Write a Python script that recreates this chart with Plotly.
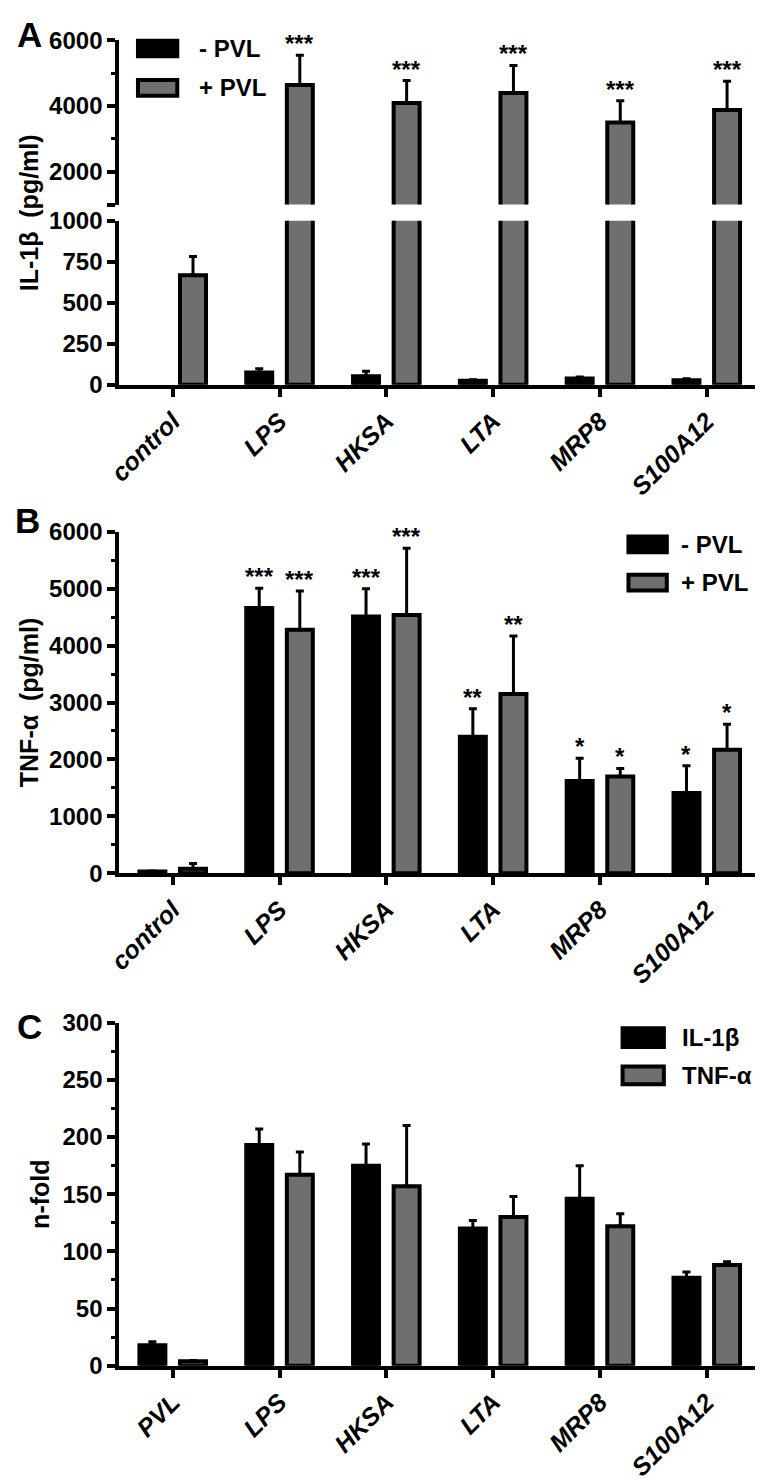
import plotly.graph_objects as go

# ---------------- data ----------------
categories_ab = ["control", "LPS", "HKSA", "LTA", "MRP8", "S100A12"]
categories_c = ["PVL", "LPS", "HKSA", "LTA", "MRP8", "S100A12"]

# Panel A: IL-1beta (pg/ml)  (control without PVL: not detectable)
il1b_minus = [None, 75, 52, 25, 38, 28]
il1b_minus_err = [0, 22, 30, 5, 10, 8]
il1b_plus = [668, 4640, 4090, 4390, 3500, 3880]
il1b_plus_err = [115, 900, 680, 840, 660, 870]
il1b_stars_plus = ["", "***", "***", "***", "***", "***"]

# Panel B: TNF-alpha (pg/ml)
tnf_minus = [30, 4660, 4510, 2400, 1620, 1410]
tnf_minus_err = [10, 350, 490, 490, 400, 480]
tnf_plus = [80, 4280, 4540, 3150, 1700, 2170]
tnf_plus_err = [92, 680, 1170, 1020, 140, 450]
tnf_stars_minus = ["", "***", "***", "**", "*", "*"]
tnf_stars_plus = ["", "***", "***", "**", "*", "*"]

# Panel C: n-fold
nfold_il1b = [18, 193, 175, 120, 146, 77]
nfold_il1b_err = [3, 14, 19, 7, 29, 5]
nfold_tnf = [4, 167, 157, 130, 122, 88]
nfold_tnf_err = [0.5, 20, 53, 18, 11, 3]

legend_ab = ["- PVL", "+ PVL"]
legend_c = ["IL-1β", "TNF-α"]

# ---------------- style ----------------
W, H = 763, 1480
OFF = 8  # default page (body) margin of the html page
BLACK = "#000000"
GREY = "#6f6f6f"
FONT = "Liberation Sans, Arial, sans-serif"
BARGAP = 0.24
GROUPGAP = 0.36


def X(px):
    return (px - OFF) / W


def Y(py):
    return 1 - (py - OFF) / H


xdom = [X(108), X(760)]


def bar(x, y, err, color, name, xa, ya):
    return go.Bar(
        x=x, y=y, name=name, xaxis=xa, yaxis=ya, showlegend=False,
        marker=dict(color=color, line=dict(color=BLACK, width=4)),
        error_y=dict(type="data", array=err, arrayminus=[0] * len(err),
                     symmetric=False, color=BLACK, thickness=3, width=4),
    )


fig = go.Figure()
# Panel A (lower and upper segment of broken axis)
for xa, ya in (("x", "y"), ("x2", "y2")):
    fig.add_trace(bar(categories_ab, il1b_minus, il1b_minus_err, BLACK, legend_ab[0], xa, ya))
    fig.add_trace(bar(categories_ab, il1b_plus, il1b_plus_err, GREY, legend_ab[1], xa, ya))
# Panel B
fig.add_trace(bar(categories_ab, tnf_minus, tnf_minus_err, BLACK, legend_ab[0], "x3", "y3"))
fig.add_trace(bar(categories_ab, tnf_plus, tnf_plus_err, GREY, legend_ab[1], "x3", "y3"))
# Panel C
fig.add_trace(bar(categories_c, nfold_il1b, nfold_il1b_err, BLACK, legend_c[0], "x4", "y4"))
fig.add_trace(bar(categories_c, nfold_tnf, nfold_tnf_err, GREY, legend_c[1], "x4", "y4"))

tickfont = dict(family=FONT, size=24, color=BLACK, weight="bold")
xtickfont = dict(family=FONT, size=25, color=BLACK, weight="bold", style="italic")


def yax(dom, anchor, rng, tickvals, ticktext=None, minor=None):
    d = dict(domain=dom, anchor=anchor, range=rng, showgrid=False, zeroline=False,
             showline=True, linewidth=4, linecolor=BLACK, ticks="outside",
             ticklen=8, tickwidth=4, tickcolor=BLACK, tickfont=tickfont,
             tickmode="array", tickvals=tickvals)
    if ticktext is not None:
        d["ticktext"] = ticktext
    if minor is not None:
        d["minor"] = dict(tickmode="array", tickvals=minor, ticks="outside",
                          ticklen=4, tickwidth=3, tickcolor=BLACK)
    return d


def xax(anchor, show=True, matches=None):
    d = dict(domain=xdom, anchor=anchor, range=[-0.5, 5.5], type="category",
             showgrid=False, zeroline=False)
    if show:
        d.update(showline=True, linewidth=4, linecolor=BLACK, ticks="outside",
                 ticklen=8, tickwidth=4, tickcolor=BLACK, tickangle=-45,
                 tickfont=xtickfont)
    else:
        d.update(showline=False, ticks="", showticklabels=False)
    if matches:
        d["matches"] = matches
    return d


fig.update_layout(
    width=W, height=H, margin=dict(l=0, r=0, t=0, b=0),
    paper_bgcolor="white", plot_bgcolor="white",
    barmode="group", bargap=BARGAP, bargroupgap=GROUPGAP,
    showlegend=False,
    xaxis=xax("y"),
    xaxis2=xax("y2", show=False, matches="x"),
    xaxis3=xax("y3"),
    xaxis4=xax("y4"),
    yaxis=yax([Y(377.5), Y(210.5)], "x", [0, 1000], [0, 250, 500, 750, 1000]),
    yaxis2=yax([Y(194), Y(26.5)], "x2", [1000, 6000], [1000, 2000, 4000, 6000],
               ["", "2000", "4000", "6000"], minor=[3000, 5000]),
    yaxis3=yax([Y(875), Y(527.3)], "x3", [0, 6000], [0, 1000, 2000, 3000, 4000, 5000, 6000],
               minor=[500, 1500, 2500, 3500, 4500, 5500]),
    yaxis4=yax([Y(1376.7), Y(1027.3)], "x4", [0, 300], [0, 50, 100, 150, 200, 250, 300],
               minor=[25, 75, 125, 175, 225, 275]),
)

ann = []
off = (1 - BARGAP) / 4


def stars(labels, vals, errs, sign, xref, yref):
    for i, (s, v, e) in enumerate(zip(labels, vals, errs)):
        if s:
            ann.append(dict(x=i + sign * off, y=v + e, xref=xref, yref=yref, text=s,
                            showarrow=False, yanchor="bottom", yshift=-4,
                            font=dict(family=FONT, size=24, color=BLACK, weight="bold")))


stars(il1b_stars_plus, il1b_plus, il1b_plus_err, +1, "x2", "y2")
stars(tnf_stars_minus, tnf_minus, tnf_minus_err, -1, "x3", "y3")
stars(tnf_stars_plus, tnf_plus, tnf_plus_err, +1, "x3", "y3")

bold24 = dict(family=FONT, size=24, color=BLACK, weight="bold")
title_font = dict(family=FONT, size=25, color=BLACK, weight="bold")
# axis titles
for txt, cx, cy in (("IL-1β  (pg/ml)", 17, 202), ("TNF-α  (pg/ml)", 17, 701), ("n-fold", 28, 1202)):
    ann.append(dict(x=X(cx), y=Y(cy), xref="paper", yref="paper", text=txt, textangle=-90,
                    showarrow=False, xanchor="center", yanchor="middle", font=title_font))
# panel letters
for txt, cx, cy in (("A", 17, 21), ("B", 15, 516), ("C", 17, 1031)):
    ann.append(dict(x=X(cx), y=Y(cy), xref="paper", yref="paper", text=txt, showarrow=False,
                    xanchor="center", yanchor="middle",
                    font=dict(family=FONT, size=35, color=BLACK, weight="bold")))

# legends (swatch boxes + labels)
shapes = []
legends = [
    (legend_ab, 127, 167, [(27, 43), (67, 83)], 187),
    (legend_ab, 626, 665, [(532, 548), (571, 587)], 677),
    (legend_c, 620, 662, [(1033, 1052), (1072, 1090)], 678),
]
for labels, x0, x1, ys, tx in legends:
    for (y0, y1), lab, col in zip(ys, labels, (BLACK, GREY)):
        shapes.append(dict(type="rect", xref="paper", yref="paper", x0=X(x0), x1=X(x1),
                           y0=Y(y1), y1=Y(y0), fillcolor=col,
                           line=dict(color=BLACK, width=4)))
        ann.append(dict(x=X(tx), y=Y((y0 + y1) / 2), xref="paper", yref="paper", text=lab,
                        showarrow=False, xanchor="left", yanchor="middle", font=bold24))

fig.update_layout(annotations=ann, shapes=shapes)
fig.write_html("out.html")
